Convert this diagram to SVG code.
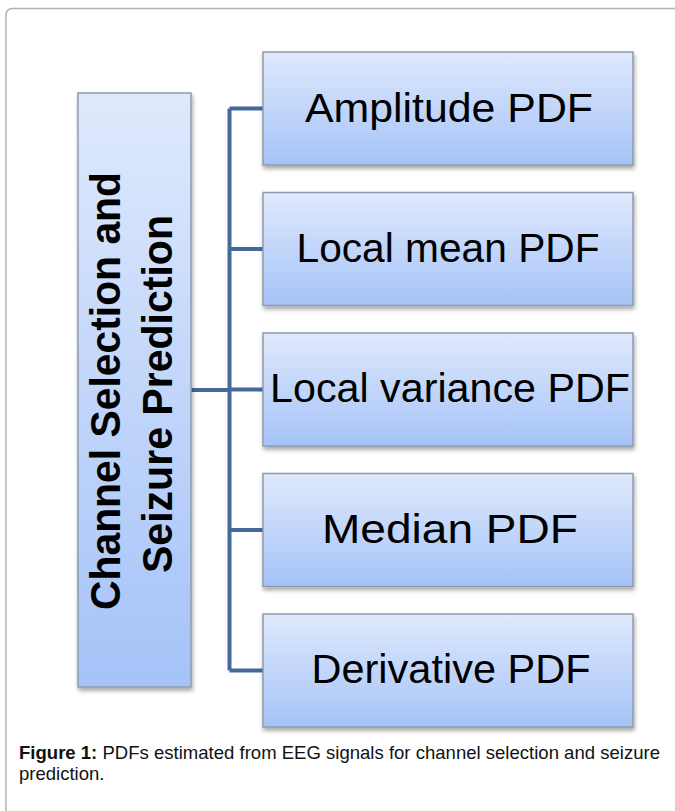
<svg xmlns="http://www.w3.org/2000/svg" width="675" height="811" viewBox="0 0 675 811">
  <defs>
    <linearGradient id="boxGrad" x1="0" y1="0" x2="0" y2="1">
      <stop offset="0" stop-color="#dfe9fc"/>
      <stop offset="1" stop-color="#a5c3f8"/>
    </linearGradient>
    <filter id="shadow" x="-10%" y="-10%" width="125%" height="130%">
      <feDropShadow dx="1" dy="3" stdDeviation="2" flood-color="#000" flood-opacity="0.35"/>
    </filter>
  </defs>
  <style>
    .box { fill: url(#boxGrad); stroke: #8f9bad; stroke-width: 1.5; filter: url(#shadow); }
    .lbl { font-family: "Liberation Sans", Arial, sans-serif; font-size: 41px; fill: #000; text-anchor: middle; }
    .side { font-family: "Liberation Sans", Arial, sans-serif; font-size: 42px; font-weight: bold; fill: #000; text-anchor: middle; }
    .conn { fill: none; stroke: #44699a; stroke-width: 4; }
    .cap { font-family: "Liberation Sans", Arial, sans-serif; font-size: 18.5px; fill: #111; }
  </style>
  <rect x="0" y="0" width="675" height="811" fill="#fff"/>
  <rect id="frame" x="6" y="8.5" width="720" height="860" rx="6" fill="none" stroke="#b3b3b3" stroke-width="1.5"/>

  <g id="connectors">
    <path class="conn" d="M191 390 H229.5 M229.5 108.5 V670.5 M229.5 108.5 H263 M229.5 249 H263 M229.5 389.5 H263 M229.5 530 H263 M229.5 670.5 H263"/>
  </g>

  <g id="root">
    <rect class="box" x="78" y="93" width="113" height="594"/>
    <text class="side" transform="translate(120 391) rotate(-90)" textLength="438" lengthAdjust="spacingAndGlyphs">Channel Selection and</text>
    <text class="side" transform="translate(172 394) rotate(-90)" textLength="358" lengthAdjust="spacingAndGlyphs">Seizure Prediction</text>
  </g>

  <g id="amplitude">
    <rect class="box" x="263" y="52" width="370" height="113"/>
    <text class="lbl" x="449" y="121.5" textLength="288" lengthAdjust="spacingAndGlyphs">Amplitude PDF</text>
  </g>
  <g id="localmean">
    <rect class="box" x="263" y="192.5" width="370" height="113"/>
    <text class="lbl" x="448" y="262" textLength="303" lengthAdjust="spacingAndGlyphs">Local mean PDF</text>
  </g>
  <g id="localvariance">
    <rect class="box" x="263" y="333" width="370" height="113"/>
    <text class="lbl" x="450" y="401.5" textLength="360" lengthAdjust="spacingAndGlyphs">Local variance PDF</text>
  </g>
  <g id="median">
    <rect class="box" x="263" y="473.5" width="370" height="113"/>
    <text class="lbl" x="450" y="543" textLength="256" lengthAdjust="spacingAndGlyphs">Median PDF</text>
  </g>
  <g id="derivative">
    <rect class="box" x="263" y="614" width="370" height="113"/>
    <text class="lbl" x="451" y="683.3" textLength="279" lengthAdjust="spacingAndGlyphs">Derivative PDF</text>
  </g>

  <g id="caption">
    <text class="cap" x="19" y="759" textLength="641" lengthAdjust="spacingAndGlyphs"><tspan font-weight="bold">Figure 1:</tspan> PDFs estimated from EEG signals for channel selection and seizure</text>
    <text class="cap" x="19" y="780">prediction.</text>
  </g>
</svg>
